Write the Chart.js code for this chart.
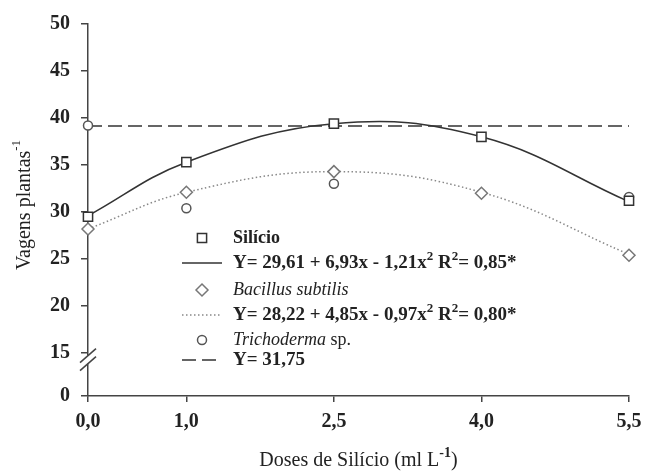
<!DOCTYPE html>
<html>
<head>
<meta charset="utf-8">
<script src="https://cdn.jsdelivr.net/npm/chart.js@4.4.1/dist/chart.umd.min.js"></script>
<style>
  html, body { margin: 0; padding: 0; background: #fff; }
</style>
</head>
<body>
<canvas id="myChart" width="654" height="475"></canvas>
<script>
// ข้อมูลที่อ่านจากกราฟ
const doses = [0, 1, 2.5, 4, 5.5];
const silicio = [29.5, 35.3, 39.4, 38.0, 31.2];
const bacillus = [28.2, 32.1, 34.3, 32.0, 25.4];
const trichoderma = [39.2, 30.4, 33.0, null, 31.6];
const silicioFit = [29.6, 35.3, 39.4, 38.0, 31.1];
const bacillusFit = [28.2, 32.1, 34.3, 32.1, 25.5];
const trichodermaLine = 39.15;
const xTicks = [0, 1, 2.5, 4, 5.5];
const yTicks = [0, 15, 20, 25, 30, 35, 40, 45, 50];
const yBreakBase = 10.43; // where "0" sits below the axis break

const serif = "'Liberation Serif', 'Times New Roman', serif";
const fB = 'bold 18px ' + serif;
const fEq = 'bold 19px ' + serif;
const fI = 'italic 18px ' + serif;
const fR = '18px ' + serif;
const fSup = 'bold 13px ' + serif;

function pts(ys) {
  return doses.map((x, i) => ({ x: x, y: ys[i] })).filter(p => p.y !== null);
}

function drawRich(ctx, parts, x, y) {
  let cx = x;
  parts.forEach(p => {
    ctx.font = p.font;
    ctx.fillText(p.t, cx, y + (p.dy || 0));
    cx += ctx.measureText(p.t).width;
  });
  return cx;
}

function eq(a, b, c, r) {
  return [
    { t: 'Y= ' + a + ' + ' + b + 'x - ' + c + 'x', font: fEq },
    { t: '2', font: fSup, dy: -6 },
    { t: ' R', font: fEq },
    { t: '2', font: fSup, dy: -6 },
    { t: '= ' + r + '*', font: fEq }
  ];
}

const legendRows = [
  { marker: 'rect', radius: 6.5, color: '#333', y: 238, parts: [{ t: 'Silício', font: fB }] },
  { line: [], color: '#333', y: 263, parts: eq('29,61', '6,93', '1,21', '0,85') },
  { marker: 'rectRot', radius: 6, color: '#777', y: 290, parts: [{ t: 'Bacillus subtilis', font: fI }] },
  { line: [1.5, 2.5], color: '#888', y: 315, parts: eq('28,22', '4,85', '0,97', '0,80') },
  { marker: 'circle', radius: 4.5, color: '#555', y: 340, parts: [{ t: 'Trichoderma', font: fI }, { t: ' sp.', font: fR }] },
  { line: [14, 6], color: '#333', y: 360, parts: [{ t: 'Y= 31,75', font: fEq }] }
];

const extras = {
  id: 'extras',
  afterDraw(chart) {
    const ctx = chart.ctx;
    const area = chart.chartArea;
    const ys = chart.scales.y;
    ctx.save();

    // axis break
    const yb = ys.getPixelForValue(14.3);
    ctx.fillStyle = '#fff';
    ctx.fillRect(area.left - 3, yb - 4, 6, 8);
    ctx.strokeStyle = '#444';
    ctx.lineWidth = 1.5;
    [-4, 4].forEach(d => {
      ctx.beginPath();
      ctx.moveTo(area.left - 8, yb + d + 7);
      ctx.lineTo(area.left + 8, yb + d - 7);
      ctx.stroke();
    });

    // legend
    ctx.textBaseline = 'middle';
    ctx.textAlign = 'left';
    legendRows.forEach(r => {
      ctx.strokeStyle = r.color;
      ctx.fillStyle = '#fff';
      ctx.lineWidth = 1.5;
      if (r.marker) {
        Chart.helpers.drawPoint(ctx, { pointStyle: r.marker, radius: r.radius, rotation: 0, borderWidth: 1.5 }, 202, r.y);
      } else {
        ctx.setLineDash(r.line);
        ctx.beginPath();
        ctx.moveTo(182, r.y);
        ctx.lineTo(222, r.y);
        ctx.stroke();
        ctx.setLineDash([]);
      }
      ctx.fillStyle = '#222';
      drawRich(ctx, r.parts, 233, r.y);
    });

    // axis titles
    ctx.fillStyle = '#222';
    const titleFont = '20px ' + serif;
    const supFont = '13px ' + serif;
    const xParts = [{ t: 'Doses de Silício (ml L', font: titleFont }, { t: '-1', font: 'bold 14px ' + serif, dy: -8 }, { t: ')', font: titleFont }];
    let w = 0;
    xParts.forEach(p => { ctx.font = p.font; w += ctx.measureText(p.t).width; });
    drawRich(ctx, xParts, (area.left + area.right) / 2 - w / 2, 461);

    const yParts = [{ t: 'Vagens plantas', font: titleFont }, { t: '-1', font: supFont, dy: -8 }];
    w = 0;
    yParts.forEach(p => { ctx.font = p.font; w += ctx.measureText(p.t).width; });
    ctx.translate(25, (area.top + area.bottom) / 2 - 5);
    ctx.rotate(-Math.PI / 2);
    drawRich(ctx, yParts, -w / 2, 0);
    ctx.restore();
  }
};

const axisGrid = {
  display: true,
  drawOnChartArea: false,
  drawTicks: true,
  color: '#444',
  lineWidth: 1.5
};

const ctx = document.getElementById('myChart').getContext('2d');
const myChart = new Chart(ctx, {
  type: 'scatter',
  data: {
    datasets: [
      {
        label: 'Silício',
        data: pts(silicio),
        pointStyle: 'rect',
        pointRadius: 6.5,
        borderColor: '#333',
        backgroundColor: '#fff',
        borderWidth: 1.5,
        clip: false
      },
      {
        label: 'Bacillus subtilis',
        data: pts(bacillus),
        pointStyle: 'rectRot',
        pointRadius: 6,
        borderColor: '#777',
        backgroundColor: '#fff',
        borderWidth: 1.5,
        clip: false
      },
      {
        label: 'Trichoderma sp.',
        data: pts(trichoderma),
        pointStyle: 'circle',
        pointRadius: 4.5,
        borderColor: '#555',
        backgroundColor: '#fff',
        borderWidth: 1.5,
        clip: false
      },
      {
        label: 'Silício ajuste',
        data: pts(silicioFit),
        showLine: true,
        pointRadius: 0,
        borderColor: '#333',
        borderWidth: 1.5,
        tension: 0.4,
        clip: false
      },
      {
        label: 'Bacillus ajuste',
        data: pts(bacillusFit),
        showLine: true,
        pointRadius: 0,
        borderColor: '#888',
        borderWidth: 1.5,
        borderDash: [1.5, 2.5],
        tension: 0.4,
        clip: false
      },
      {
        label: 'Trichoderma média',
        data: [{ x: xTicks[0], y: trichodermaLine }, { x: xTicks[xTicks.length - 1], y: trichodermaLine }],
        showLine: true,
        pointRadius: 0,
        borderColor: '#333',
        borderWidth: 1.5,
        borderDash: [14, 6],
        clip: false
      }
    ]
  },
  options: {
    responsive: false,
    animation: false,
    events: [],
    layout: { padding: { top: 24, right: 25, left: 0, bottom: 0 } },
    plugins: {
      legend: { display: false },
      tooltip: { enabled: false }
    },
    scales: {
      x: {
        type: 'linear',
        min: 0,
        max: 5.5,
        afterBuildTicks: axis => { axis.ticks = xTicks.map(v => ({ value: v })); },
        afterFit: s => { s.height = 79; },
        grid: Object.assign({}, axisGrid, { tickLength: 6 }),
        border: { display: true, color: '#444', width: 1.5 },
        ticks: {
          padding: 8,
          color: '#222',
          font: { family: serif, size: 20, weight: 'bold' },
          maxRotation: 0,
          callback: v => v.toFixed(1).replace('.', ',')
        }
      },
      y: {
        type: 'linear',
        min: yBreakBase,
        max: 50,
        afterBuildTicks: axis => { axis.ticks = yTicks.map(v => ({ value: v === 0 ? yBreakBase : v })); },
        afterFit: s => { s.width = 88; },
        grid: Object.assign({}, axisGrid, { tickLength: 7 }),
        border: { display: true, color: '#444', width: 1.5 },
        ticks: {
          padding: 11,
          color: '#222',
          font: { family: serif, size: 20, weight: 'bold' },
          callback: v => (v < 15 ? '0' : String(v))
        }
      }
    }
  },
  plugins: [extras]
});
</script>
</body>
</html>
